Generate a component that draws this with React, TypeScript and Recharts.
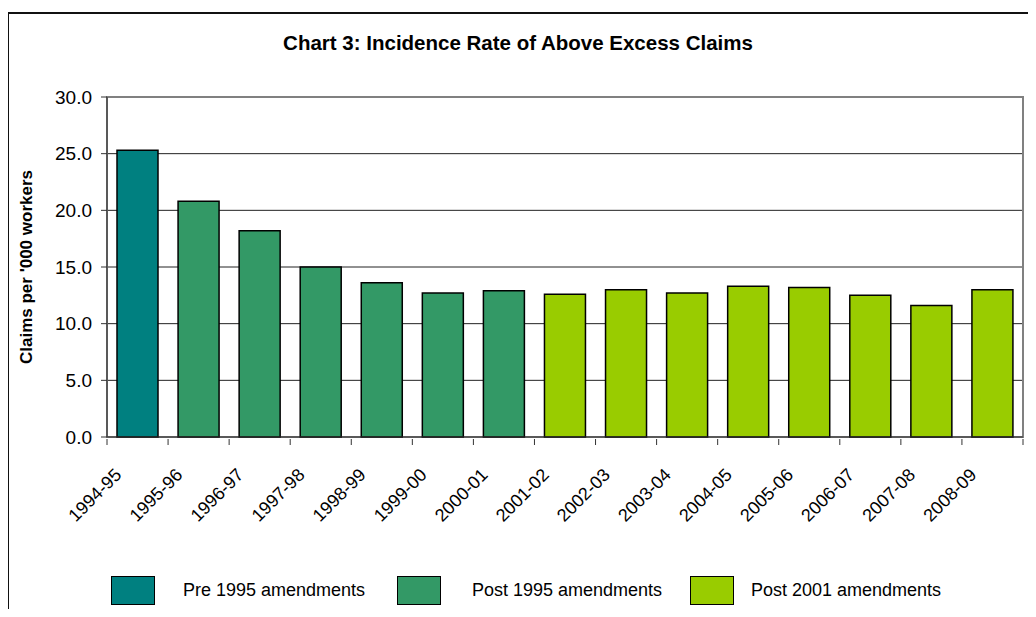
import React from "react";
import { BarChart, Bar, XAxis, YAxis, CartesianGrid, ReferenceArea } from "recharts";

const years = [
  "1994-95", "1995-96", "1996-97", "1997-98", "1998-99", "1999-00", "2000-01", "2001-02",
  "2002-03", "2003-04", "2004-05", "2005-06", "2006-07", "2007-08", "2008-09",
];
const pre1995 = [25.3, null, null, null, null, null, null, null, null, null, null, null, null, null, null];
const post1995 = [null, 20.8, 18.2, 15.0, 13.6, 12.7, 12.9, null, null, null, null, null, null, null, null];
const post2001 = [null, null, null, null, null, null, null, 12.6, 13.0, 12.7, 13.3, 13.2, 12.5, 11.6, 13.0];
const yTicks = [0, 5, 10, 15, 20, 25, 30];

const seriesInfo = [
  { key: "pre", name: "Pre 1995 amendments", color: "#008080" },
  { key: "post95", name: "Post 1995 amendments", color: "#339966" },
  { key: "post01", name: "Post 2001 amendments", color: "#99CC00" },
];

const data = years.map((y, i) => ({
  year: y,
  pre: pre1995[i],
  post95: post1995[i],
  post01: post2001[i],
}));

const FONT = "'Liberation Sans', Arial, sans-serif";
const PLOT_LEFT = 107;
const PLOT_RIGHT = 1023;
const BAND = (PLOT_RIGHT - PLOT_LEFT) / years.length;

const XTick = (props: any) => {
  const { x, y, payload, index } = props;
  const left = x - BAND / 2;
  const ax = x - 15;
  const ay = y + 31;
  return (
    <g>
      <line x1={left} y1={y - 6} x2={left} y2={y} stroke="#333" />
      {index === years.length - 1 && (
        <line x1={x + BAND / 2} y1={y - 6} x2={x + BAND / 2} y2={y} stroke="#333" />
      )}
      <text
        x={ax}
        y={ay}
        textAnchor="end"
        transform={`rotate(-45, ${ax}, ${ay})`}
        fontSize={18}
        fontFamily={FONT}
        fill="#000"
      >
        {payload.value}
      </text>
    </g>
  );
};

const LegendBox = () => {
  const pos = [
    { sq: 111, tx: 183 },
    { sq: 397, tx: 472 },
    { sq: 690, tx: 751 },
  ];
  return (
    <div style={{ position: "absolute", left: 0, top: 576, width: 1036, height: 40 }}>
      {seriesInfo.map((s, i) => (
        <React.Fragment key={s.key}>
          <div
            style={{
              position: "absolute",
              left: pos[i].sq,
              top: 0,
              width: 42,
              height: 27,
              background: s.color,
              border: "1px solid #000",
            }}
          />
          <div
            style={{
              position: "absolute",
              left: pos[i].tx,
              top: 4,
              fontSize: 18,
              fontFamily: FONT,
              color: "#000",
              whiteSpace: "nowrap",
            }}
          >
            {s.name}
          </div>
        </React.Fragment>
      ))}
    </div>
  );
};

export default function App() {
  return (
    <div style={{ margin: -8, position: "relative", width: 1036, height: 617, background: "#fff", overflow: "hidden" }}>
      <div
        style={{
          position: "absolute",
          left: 7,
          top: 12,
          width: 1060,
          height: 640,
          borderLeft: "2px solid #111",
          borderTop: "2px solid #111",
        }}
      />
      <div
        style={{
          position: "absolute",
          left: 0,
          top: 31,
          width: 1036,
          textAlign: "center",
          fontFamily: FONT,
          fontWeight: "bold",
          fontSize: 20.5,
          color: "#000",
        }}
      >
        Chart 3: Incidence Rate of Above Excess Claims
      </div>
      <div style={{ position: "absolute", left: 0, top: 0 }}>
        <BarChart
          width={1036}
          height={617}
          data={data}
          margin={{ top: 97, right: 1036 - PLOT_RIGHT, left: 0, bottom: 80 }}
          barSize={41}
        >
          <CartesianGrid vertical={false} stroke="#222" />
          <ReferenceArea y1={0} y2={30} fill="none" stroke="#808080" strokeWidth={2} ifOverflow="visible" />
          <XAxis
            dataKey="year"
            height={100}
            interval={0}
            tickLine={false}
            tick={<XTick />}
            stroke="#333"
          />
          <YAxis
            width={PLOT_LEFT}
            domain={[0, 30]}
            ticks={yTicks}
            tickFormatter={(v: number) => v.toFixed(1)}
            tickSize={6}
            tickMargin={9}
            stroke="#333"
            tick={{ fill: "#000", fontSize: 19, fontFamily: FONT }}
            label={{
              value: "Claims per '000 workers",
              angle: -90,
              position: "insideLeft",
              offset: 26,
              style: { textAnchor: "middle", fontWeight: "bold", fontSize: 17, fontFamily: FONT, fill: "#000" },
            }}
          />
          {seriesInfo.map((s) => (
            <Bar
              key={s.key}
              dataKey={s.key}
              name={s.name}
              stackId="a"
              fill={s.color}
              stroke="#000"
              strokeWidth={1.5}
              isAnimationActive={false}
            />
          ))}
        </BarChart>
      </div>
      <LegendBox />
    </div>
  );
}
